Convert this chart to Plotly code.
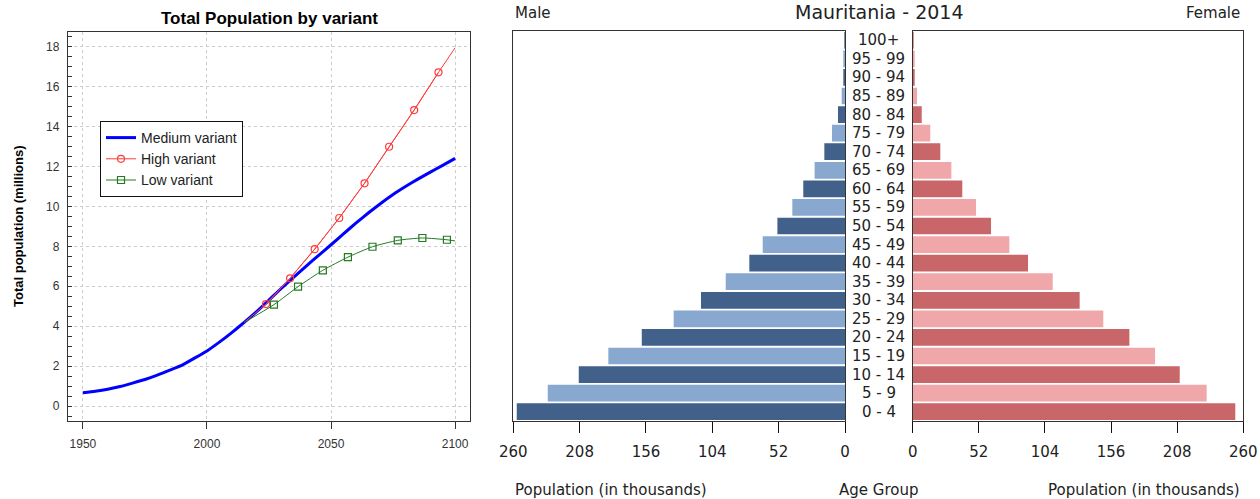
import plotly.graph_objects as go

# ---------------- data: total population by variant (millions) ----------------
medium_years = [1950, 1955, 1960, 1965, 1970, 1975, 1980, 1985, 1990, 1995, 2000, 2005,
                2010, 2015, 2020, 2025, 2030, 2035, 2040, 2045, 2050, 2055, 2060, 2065,
                2070, 2075, 2080, 2085, 2090, 2095, 2100]
medium_values = [0.67, 0.74, 0.84, 0.98, 1.15, 1.33, 1.55, 1.80, 2.05, 2.40, 2.76, 3.20,
                 3.68, 4.19, 4.73, 5.31, 5.90, 6.46, 7.01, 7.55, 8.08, 8.63, 9.16, 9.67,
                 10.15, 10.60, 11.00, 11.37, 11.72, 12.06, 12.41]

high_years = [2015, 2023.8, 2033.5, 2043.4, 2053.3, 2063.5, 2073.4, 2083.5, 2093.3, 2100]
high_values = [4.19, 5.11, 6.40, 7.86, 9.42, 11.16, 12.99, 14.83, 16.72, 17.95]

low_years = [2015, 2027.0, 2036.7, 2046.7, 2056.8, 2066.7, 2076.9, 2086.8, 2096.7, 2100]
low_values = [4.19, 5.08, 5.98, 6.80, 7.46, 7.98, 8.30, 8.42, 8.33, 8.27]

x_ticks = [1950, 2000, 2050, 2100]
y_ticks = [0, 2, 4, 6, 8, 10, 12, 14, 16, 18]

# ---------------- data: population pyramid (thousands) ----------------
age_groups = ["0 - 4", "5 - 9", "10 - 14", "15 - 19", "20 - 24", "25 - 29", "30 - 34",
              "35 - 39", "40 - 44", "45 - 49", "50 - 54", "55 - 59", "60 - 64", "65 - 69",
              "70 - 74", "75 - 79", "80 - 84", "85 - 89", "90 - 94", "95 - 99", "100+"]
male = [257.3, 233.0, 208.7, 185.5, 159.3, 134.3, 112.9, 93.5, 75.0, 64.5, 53.0, 41.3,
        32.7, 23.8, 16.2, 10.2, 5.5, 2.6, 1.3, 0.6, 0.3]
female = [253.7, 231.2, 210.0, 190.6, 170.4, 149.9, 131.3, 110.1, 90.7, 76.0, 61.6, 49.8,
          39.0, 30.4, 21.7, 13.8, 7.1, 3.4, 1.5, 0.8, 0.5]
pop_ticks = [0, 52, 104, 156, 208, 260]

# ---------------- layout helpers ----------------
W, H = 1260, 499


def px(x):
    return x / W


def py(y):
    return 1 - y / H


ARIAL = "Liberation Sans, Arial, sans-serif"
DEJA = "DejaVu Sans, sans-serif"
male_dark, male_light = "#41618a", "#88a8d0"
female_dark, female_light = "#c96669", "#f0a7a9"
red = "#ff3b3b"
green = "#237a23"

fig = go.Figure()

# left chart
fig.add_trace(go.Scatter(x=medium_years, y=medium_values, mode="lines", name="Medium variant",
                         line=dict(color="#0000ff", width=3, shape="spline", smoothing=0.5),
                         xaxis="x", yaxis="y"))
fig.add_trace(go.Scatter(x=high_years, y=high_values, mode="lines", showlegend=False,
                         line=dict(color=red, width=1), xaxis="x", yaxis="y"))
fig.add_trace(go.Scatter(x=high_years[1:-1], y=high_values[1:-1], mode="lines+markers",
                         name="High variant", line=dict(color=red, width=1),
                         marker=dict(symbol="circle-open", size=7, color=red, line=dict(width=1.2)),
                         xaxis="x", yaxis="y"))
fig.add_trace(go.Scatter(x=low_years, y=low_values, mode="lines", showlegend=False,
                         line=dict(color=green, width=1, shape="spline", smoothing=0.6),
                         xaxis="x", yaxis="y"))
fig.add_trace(go.Scatter(x=low_years[1:-1], y=low_values[1:-1], mode="markers",
                         name="Low variant",
                         marker=dict(symbol="square-open", size=7, color=green, line=dict(width=1.2)),
                         xaxis="x", yaxis="y", showlegend=False))
fig.add_trace(go.Scatter(x=[None], y=[None], mode="lines+markers", name="Low variant",
                         line=dict(color=green, width=1),
                         marker=dict(symbol="square-open", size=7, color=green, line=dict(width=1.2)),
                         xaxis="x", yaxis="y"))

# pyramid
idx = list(range(len(age_groups)))
male_colors = [male_dark if i % 2 == 0 else male_light for i in idx]
female_colors = [female_dark if i % 2 == 0 else female_light for i in idx]
fig.add_trace(go.Bar(x=male, y=idx, orientation="h", marker=dict(color=male_colors, line=dict(width=0)),
                     xaxis="x2", yaxis="y2", showlegend=False, name="Male"))
fig.add_trace(go.Bar(x=female, y=idx, orientation="h", marker=dict(color=female_colors, line=dict(width=0)),
                     xaxis="x3", yaxis="y3", showlegend=False, name="Female"))

frame = dict(showline=True, mirror=True, linecolor="#333333", linewidth=1.3, zeroline=False,
             automargin=False)

fig.update_layout(
    template="none",
    width=W, height=H, autosize=False,
    margin=dict(l=0, r=0, t=0, b=0, pad=0),
    paper_bgcolor="white", plot_bgcolor="white",
    bargap=0.1,
    showlegend=True,
    legend=dict(x=px(100), y=py(121), xanchor="left", yanchor="top",
                bordercolor="#111111", borderwidth=1, bgcolor="white",
                font=dict(family=ARIAL, size=14, color="#222222"),
                tracegroupgap=0, itemwidth=30),
    xaxis=dict(domain=[px(68), px(470)], range=[1944, 2106], tickvals=x_ticks,
               ticks="outside", ticklen=7, tickcolor="#333333",
               showgrid=True, gridcolor="#cccccc", griddash="dot", gridwidth=1,
               ticklabelstandoff=4,
               tickfont=dict(family=ARIAL, size=12, color="#333333"), anchor="y", **frame),
    yaxis=dict(domain=[py(421), py(32)], range=[-0.75, 18.74], tickvals=y_ticks,
               ticks="inside", ticklen=4, tickcolor="#333333",
               minor=dict(dtick=0.5, tick0=0, ticks="inside", ticklen=4, tickcolor="#333333", showgrid=False),
               showgrid=True, gridcolor="#cccccc", griddash="dot", gridwidth=1,
               ticklabelstandoff=5,
               tickfont=dict(family=ARIAL, size=12, color="#333333"), anchor="x", **frame),
    xaxis2=dict(domain=[px(513.3), px(845)], range=[260, 0], tickvals=pop_ticks,
                ticks="outside", ticklen=11, tickcolor="#111111", showgrid=False,
                ticklabelstandoff=6,
                tickfont=dict(family=DEJA, size=15, color="#222222"),
                anchor="y2", **frame),
    yaxis2=dict(domain=[py(421), py(31)], range=[-0.5, 20.5], showticklabels=False,
                ticks="", showgrid=False, anchor="x2", **frame),
    xaxis3=dict(domain=[px(912.7), px(1243.3)], range=[0, 260], tickvals=pop_ticks,
                ticks="outside", ticklen=11, tickcolor="#111111", showgrid=False,
                ticklabelstandoff=6,
                tickfont=dict(family=DEJA, size=15, color="#222222"),
                anchor="y3", **frame),
    yaxis3=dict(domain=[py(421), py(31)], range=[-0.5, 20.5], showticklabels=False,
                ticks="", showgrid=False, anchor="x3", **frame),
)

ann = []
ann.append(dict(text="<b>Total Population by variant</b>", x=px(269), y=py(18),
                xref="paper", yref="paper", xanchor="center", yanchor="middle", showarrow=False,
                font=dict(family=ARIAL, size=17, color="#000000")))
ann.append(dict(text="<b>Total population (millions)</b>", x=px(18), y=py(226), textangle=-90,
                xref="paper", yref="paper", xanchor="center", yanchor="middle", showarrow=False,
                font=dict(family=ARIAL, size=13, color="#000000")))
ann.append(dict(text="Mauritania - 2014", x=px(879), y=py(12), xref="paper", yref="paper",
                xanchor="center", yanchor="middle", showarrow=False,
                font=dict(family=DEJA, size=19, color="#222222")))
ann.append(dict(text="Male", x=px(513), y=py(13), xref="paper", yref="paper",
                xanchor="left", yanchor="middle", showarrow=False,
                font=dict(family=DEJA, size=15, color="#222222")))
ann.append(dict(text="Female", x=px(1242), y=py(13), xref="paper", yref="paper",
                xanchor="right", yanchor="middle", showarrow=False,
                font=dict(family=DEJA, size=15, color="#222222")))
ann.append(dict(text="Population (in thousands)", x=px(513), y=py(490), xref="paper", yref="paper",
                xanchor="left", yanchor="middle", showarrow=False,
                font=dict(family=DEJA, size=15, color="#222222")))
ann.append(dict(text="Age Group", x=px(878), y=py(490), xref="paper", yref="paper",
                xanchor="center", yanchor="middle", showarrow=False,
                font=dict(family=DEJA, size=15, color="#222222")))
ann.append(dict(text="Population (in thousands)", x=px(1242), y=py(490), xref="paper", yref="paper",
                xanchor="right", yanchor="middle", showarrow=False,
                font=dict(family=DEJA, size=15, color="#222222")))
for i, lab in zip(idx, age_groups):
    ann.append(dict(text=lab, x=px(878.5), y=i, xref="paper", yref="y2",
                    xanchor="center", yanchor="middle", showarrow=False,
                    font=dict(family=DEJA, size=15, color="#222222")))
fig.update_layout(annotations=ann)

# remove the browser's default page margin so the 1260x499 figure fills the window
fig.write_html("out.html", config={"displayModeBar": False},
               post_script="document.body.style.margin='0';document.body.style.overflow='hidden';")
